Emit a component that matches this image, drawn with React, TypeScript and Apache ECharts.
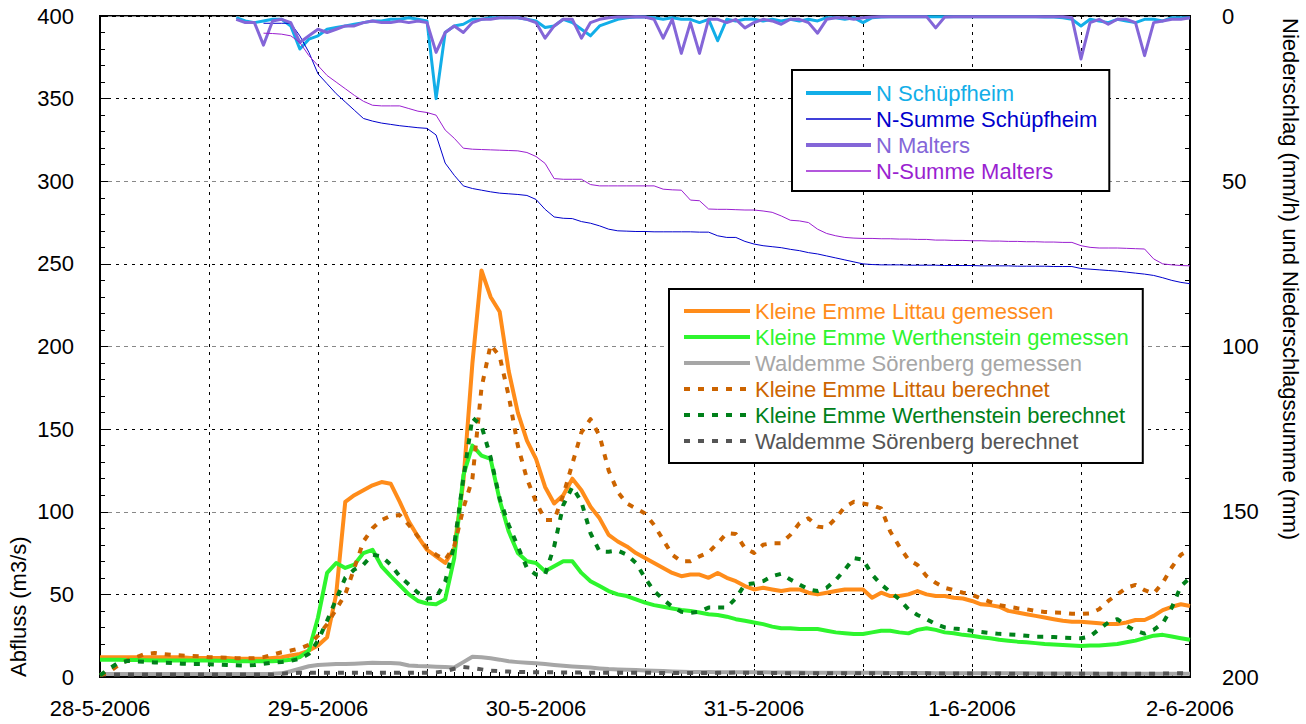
import React, { useEffect, useRef } from 'react';
import * as echarts from 'echarts';

// ---- tick labels ----
const dayLabels = ['28-5-2006', '29-5-2006', '30-5-2006', '31-5-2006', '1-6-2006', '2-6-2006'];
const hoursPerDay = 24;

// ---- discharge (m3/s), hourly from 28-5-2006 00:00 ----
const flowStartHour = 0;
const littauGemessen = [
  12, 12, 12, 12, 12, 12, 12, 12, 12, 12,
  11.5, 11.5, 11.5, 11.5, 11.5, 11, 11, 11, 11, 11.5,
  12, 13, 14, 16, 19, 24, 50, 106, 110, 113,
  116, 118, 117, 106, 94, 85, 77, 73, 69, 78,
  118, 190, 246, 230, 221, 185, 160, 143, 132, 115,
  105, 110, 120, 113, 103, 96, 86, 82, 79, 75,
  72, 69, 66, 63, 61, 62, 62, 60, 63, 60,
  58, 55, 53, 54, 53, 52, 53, 53, 51, 50,
  51, 52, 53, 53, 53, 48, 51, 49, 49, 50,
  52, 50, 49, 49, 48, 47.5, 46, 44, 43.5, 42.5,
  40, 39, 38, 37, 36, 35, 34, 33.5, 33.5, 33,
  32.5, 32, 32, 33, 34.5, 34.5, 37, 40.5, 42.5, 44,
  43,
];
const werthensteinGemessen = [
  10.5, 10.5, 10.5, 10.3, 10.3, 10.2, 10, 10, 10, 10,
  10, 10, 10, 9.8, 9.8, 9.6, 9.5, 9.5, 9.5, 9.6,
  9.8, 10.5, 12, 16, 36, 63, 69, 66, 68, 75,
  77, 67, 61, 55.5, 50, 46, 44.5, 44, 47, 72,
  122, 140, 134, 132, 107, 88, 75, 70, 69, 64,
  67, 70, 70, 63, 58, 55, 52, 50, 49, 47,
  45, 43.5, 42.5, 41.5, 40.5, 40, 39, 38, 37.5, 36.5,
  35, 34, 33, 32, 30.5, 29.5, 29.5, 29, 29, 29,
  28, 27, 26.5, 26, 26, 27, 28, 28, 27, 26.4,
  28.5, 29.5, 28.5, 27, 26.5, 25.5, 25, 24, 23.5, 22.5,
  22, 21.4, 21, 20.5, 20, 19.7, 19.3, 19, 18.8, 19,
  19, 19.5, 20, 21, 22, 23.5, 25, 25.5, 24.5, 23.5,
  22.5,
];
const soerenbergGemessen = [
  1.8, 1.8, 1.8, 1.8, 1.8, 1.8, 1.8, 1.8, 1.8, 1.8,
  1.8, 1.8, 1.8, 1.8, 1.8, 1.8, 1.8, 1.8, 1.8, 1.9,
  2.2, 3.5, 5, 6.5, 7.3, 7.5, 7.8, 7.8, 8, 8.3,
  8.6, 8.5, 8.5, 8.2, 7, 6.6, 6.5, 6.2, 6, 5.8,
  9, 12.3, 12, 11.3, 10.5, 9.5, 9, 8.6, 8.3, 7.8,
  7.3, 6.8, 6.4, 6, 5.7, 5.2, 4.8, 4.6, 4.4, 4.2,
  4, 3.8, 3.6, 3.4, 3.2, 3.1, 3, 3, 2.9, 2.9,
  2.8, 2.8, 2.8, 2.8, 2.7, 2.7, 2.7, 2.7, 2.6, 2.6,
  2.6, 2.6, 2.5, 2.5, 2.5, 2.5, 2.5, 2.4, 2.4, 2.4,
  2.4, 2.4, 2.3, 2.3, 2.3, 2.3, 2.3, 2.2, 2.2, 2.2,
  2.2, 2.2, 2.2, 2.1, 2.1, 2.1, 2.1, 2.1, 2.1, 2.1,
  2, 2, 2, 2, 2, 2, 2, 2, 2, 2,
  2,
];
const littauBerechnet = [
  1, 3, 7, 10, 12, 14, 14.5, 13.8, 13.3, 13,
  12.8, 12.5, 12, 11.8, 11.6, 11.4, 11.3, 11.3, 12, 13.5,
  15, 16, 17.3, 19.5, 25, 32, 41, 50, 66, 82,
  90, 95, 97.5, 98, 92, 85, 78, 74, 71, 79,
  102, 120, 175, 201, 194, 170, 140, 120, 106, 95,
  95, 110, 129, 148, 156, 146, 125, 112, 105, 102,
  99, 92, 83, 74, 70, 70, 73, 75.5, 81, 87,
  86.5, 78, 75, 80, 81, 81, 86, 93, 96, 91,
  90.5, 96, 103, 106, 105, 104, 102, 88, 79, 71,
  67.8, 61, 57, 54, 52.5, 51, 49.8, 47.5, 45.5, 43.5,
  42.5, 41.6, 41, 40, 39.4, 39, 38.9, 38.3, 38.2, 38.5,
  41, 46, 50, 54, 55.7, 52.5, 50.5, 57, 66.4, 74,
  77,
];
const werthensteinBerechnet = [
  1, 5, 8.5, 9.7, 9.5, 9.2, 8.8, 8.7, 8.5, 8,
  7.9, 7.9, 7.7, 7.5, 7.3, 7.1, 6.9, 7.2, 8, 8.7,
  9, 9.8, 11, 14, 22, 34, 47, 60, 65, 68,
  74, 73, 68, 61, 56, 51, 47.5, 48, 57.7, 80,
  120, 157, 152, 133, 108, 92, 79, 66, 62, 62,
  79, 104, 115, 106, 87, 76, 75.8, 76.5, 74, 69,
  60, 52, 47, 42.5, 39.5, 38.8, 39.5, 42, 42, 42,
  47.6, 56, 56.7, 58, 61, 62.5, 59, 56, 53, 52,
  54, 58.7, 65, 72, 71, 62, 56, 51.5, 47, 41,
  37.5, 35, 32, 30, 29.3, 28.8, 28, 27.2, 26.6, 26.1,
  25.8, 25.5, 25, 24.4, 24.4, 24.2, 23.8, 23.6, 23.4, 24.5,
  29, 33, 35, 31, 28, 26.3, 28.5, 32.5, 42, 55,
  60,
];
const soerenbergBerechnet = [
  1.5, 1.5, 1.5, 1.5, 1.5, 1.5, 1.5, 1.5, 1.5, 1.5,
  1.5, 1.5, 1.5, 1.5, 1.5, 1.5, 1.5, 1.5, 1.5, 1.5,
  2, 2.3, 2.5, 2.5, 2.5, 2.5, 2.5, 2.5, 2.5, 2.5,
  2.5, 2.5, 2.5, 2.5, 2.5, 2.5, 2.6, 2.8, 3.5, 5,
  6, 5.5, 4.6, 3.8, 3.5, 3.3, 3.1, 3, 2.9, 2.8,
  2.8, 2.7, 2.7, 2.7, 2.6, 2.6, 2.6, 2.6, 2.5, 2.5,
  2.5, 2.5, 2.4, 2.4, 2.4, 2.4, 2.4, 2.4, 2.5, 2.6,
  2.7, 2.6, 2.5, 2.4, 2.4, 2.3, 2.3, 2.3, 2.3, 2.3,
  2.2, 2.2, 2.2, 2.2, 2.2, 2.2, 2.2, 2.2, 2.2, 2.2,
  2.2, 2.2, 2.1, 2.1, 2.1, 2.1, 2.1, 2.1, 2.1, 2.1,
  2, 2, 2, 2, 2, 2, 2, 2, 2, 2,
  2, 2, 2, 2, 2, 2, 2, 2.1, 2.2, 2.2,
  2.2,
];

// ---- precipitation (mm/h), hourly from hour 15 ----
const precipStartHour = 15;
const nSchuepfheim = [
  0.5, 1.5, 2, 1.5, 1,
  1, 3, 10, 7, 6, 4, 3.5, 3, 2.5, 2,
  1.5, 1.5, 1, 1, 0.5, 1, 1.5, 25, 5, 3,
  2.5, 1, 1, 0.5, 0.5, 0.5, 0.5, 1, 1.5, 3.5,
  3, 1, 2, 4, 6, 3, 2, 1, 0.5, 0.3,
  0.3, 0.5, 1, 0.5, 1, 1, 2, 1, 7.5, 1,
  1.5, 1, 1, 1.5, 1, 1.5, 1, 1.5, 1, 1.5,
  0.5, 0.5, 1, 0.5, 2, 0.5, 0.3, 0.2, 0.2, 0.2,
  0.2, 0.2, 0.2, 0.2, 0.2, 0.2, 0.2, 0.2, 0.2, 0.2,
  0.2, 0.2, 0.2, 0.2, 0.3, 0.3, 0.5, 1, 3, 1,
  1.5, 2, 1, 1.5, 2, 1, 1, 1.5, 0.5, 0.5,
  0.5,
];
const nMalters = [
  1, 2, 2, 8.8, 1.5,
  1, 2, 8, 6, 4, 5, 4, 3, 3, 2,
  1.5, 2, 2, 1.5, 2, 1.5, 2, 11, 5, 3,
  5, 2, 1, 1, 0.5, 0.5, 0.5, 1, 2, 6.7,
  3, 1, 1, 6.7, 2, 1, 0.5, 0.3, 0.3, 0.2,
  0.3, 1, 6.7, 1, 11.3, 2, 11.3, 1, 1, 2,
  1, 3.6, 2, 1, 1.5, 2.5, 1, 1, 2, 5.2,
  1, 0.5, 0.5, 1, 0.5, 0.3, 0.2, 0.2, 0.2, 0.2,
  0.2, 0.2, 3.6, 0.3, 0.2, 0.2, 0.2, 0.2, 0.2, 0.2,
  0.2, 0.2, 0.2, 0.2, 0.2, 0.2, 0.2, 0.5, 13, 2,
  1, 2.5, 1, 1, 2, 12, 2, 1.5, 1, 1,
  0.5,
];

// ---- precipitation sums (mm), hourly from hour 18 ----
const sumStartHour = 18;
const nSummeSchuepfheim = [
  2.2, 2.2,
  2.2, 2.2, 6, 11, 17.5, 20.5, 23.5, 26, 28.5, 31,
  31.8, 32.4, 32.8, 33.2, 33.5, 33.8, 34, 36, 44.5, 48.2,
  51.4, 52.2, 52.7, 53.2, 53.6, 53.8, 54, 54.3, 55.5, 58.5,
  60.8, 61.2, 61.3, 62.2, 62.7, 63.5, 64.5, 65, 65.1, 65.2,
  65.2, 65.3, 65.3, 65.3, 65.3, 65.3, 65.4, 65.4, 66.5, 67,
  67, 68.2, 69, 69.5, 69.8, 70.1, 70.6, 71, 71.6, 72,
  72.6, 73.2, 73.8, 74.4, 75, 75.2, 75.3, 75.3, 75.3, 75.4,
  75.4, 75.4, 75.4, 75.5, 75.5, 75.5, 75.5, 75.6, 75.6, 75.6,
  75.6, 75.7, 75.7, 75.7, 75.7, 75.8, 75.8, 75.8, 76.4, 76.6,
  76.8, 77, 77.2, 77.5, 77.8, 78.1, 78.5, 79.2, 80, 80.6,
  81,
];
const nSummeMalters = [
  5.2, 5.3,
  5.5, 6, 8, 12, 15, 18, 20, 22, 24, 25.8,
  27, 27.2, 27.2, 27.2, 28, 28.8, 29.2, 30, 34.5, 37,
  40, 40.3, 40.4, 40.5, 40.6, 40.7, 40.8, 41.3, 42.5, 44.6,
  49.2, 49.4, 49.4, 49.4, 51, 51.4, 51.4, 51.4, 51.4, 51.4,
  51.4, 51.4, 52.4, 52.6, 52.7, 55.7, 55.9, 58.4, 58.5, 58.5,
  58.6, 58.7, 58.7, 59, 59.4, 60.5, 61.8, 62, 62.5, 64.5,
  65.8, 66.5, 67, 67.2, 67.3, 67.3, 67.4, 67.4, 67.5, 67.5,
  67.6, 67.6, 67.8, 67.8, 67.9, 67.9, 68, 68, 68.1, 68.1,
  68.2, 68.2, 68.3, 68.3, 68.4, 68.4, 68.5, 68.5, 69.5, 70,
  70.2, 70.2, 70.2, 70.3, 70.4, 70.5, 73.5, 75, 75.3, 75.5,
  75.6,
];

const FONT = '"Liberation Sans", Arial, Helvetica, sans-serif';
const FS = 22;

const C = {
  littauG: '#ff8c1a',
  werthG: '#2ef52e',
  soerG: '#a6a6a6',
  littauB: '#cc6400',
  werthB: '#00801a',
  soerB: '#555555',
  nSch: '#12aee8',
  sumSch: '#0000cc',
  nMal: '#8466d8',
  sumMal: '#9a1fd0',
};

const DASH = [6, 8];

function pairs(start: number, values: number[]) {
  return values.map((v, i) => [start + i, v]);
}

function mkSeries(name: string, start: number, values: number[], color: string, width: number, dashed: boolean, yAxisIndex: number) {
  return {
    type: 'line',
    name,
    data: pairs(start, values),
    yAxisIndex,
    symbol: 'none',
    showSymbol: false,
    silent: true,
    lineStyle: { color, width, type: dashed ? DASH : 'solid', cap: 'butt', join: 'round' },
    itemStyle: { color },
    emphasis: { disabled: true },
  };
}

function legendItem(name: string, color: string, width: number, dashed: boolean) {
  return {
    name,
    textStyle: { color },
    itemStyle: { color: 'rgba(0,0,0,0)', borderWidth: 0, opacity: 0 },
    lineStyle: { color, width, type: dashed ? DASH : 'solid', opacity: 1 },
  };
}

export default function App() {
  const ref = useRef<HTMLDivElement>(null);

  useEffect(() => {
    document.body.style.margin = '0';
    if (!ref.current) return;
    const chart = echarts.init(ref.current, undefined, { renderer: 'svg' });

    const tickStyle = { color: '#000', width: 1 };
    const option: any = {
      animation: false,
      backgroundColor: '#ffffff',
      textStyle: { fontFamily: FONT },
      grid: {
        left: 100,
        right: 116,
        top: 16,
        bottom: 47,
        show: true,
        borderColor: '#000',
        borderWidth: 2,
        backgroundColor: 'transparent',
      },
      xAxis: {
        type: 'value',
        min: 0,
        max: 120,
        interval: 12,
        axisLine: { show: true, onZero: false, lineStyle: { color: '#000', width: 2 } },
        axisTick: { show: true, inside: true, length: 8, lineStyle: tickStyle },
        minorTick: { show: true, splitNumber: 12, length: 5, lineStyle: tickStyle },
        splitLine: { show: true, lineStyle: { color: '#000', width: 1, type: [3, 5] } },
        axisLabel: {
          color: '#000',
          fontSize: FS,
          fontFamily: FONT,
          margin: 20,
          formatter: (v: number) => (v % hoursPerDay === 0 ? dayLabels[v / hoursPerDay] : ''),
        },
      },
      yAxis: [
        {
          type: 'value',
          min: 0,
          max: 400,
          interval: 50,
          position: 'left',
          axisLine: { show: true, lineStyle: { color: '#000', width: 2 } },
          axisTick: { show: true, inside: true, length: 8, lineStyle: tickStyle },
          minorTick: { show: true, splitNumber: 5, length: 5, lineStyle: tickStyle },
          splitLine: { show: true, lineStyle: { color: '#000', width: 1, type: [3, 5] } },
          axisLabel: { color: '#000', fontSize: FS, fontFamily: FONT, margin: 26 },
        },
        {
          type: 'value',
          min: 0,
          max: 200,
          interval: 50,
          inverse: true,
          position: 'right',
          axisLine: { show: true, lineStyle: { color: '#000', width: 2 } },
          axisTick: { show: true, inside: true, length: 8, lineStyle: tickStyle },
          minorTick: { show: true, splitNumber: 5, length: 5, lineStyle: tickStyle },
          splitLine: { show: true, lineStyle: { color: '#888', width: 1, type: [4, 4] } },
          axisLabel: { color: '#000', fontSize: FS, fontFamily: FONT, margin: 32, align: 'left' },
        },
      ],
      legend: [
        {
          orient: 'vertical',
          left: 792,
          top: 70,
          itemWidth: 65,
          itemHeight: 14,
          itemGap: 4,
          padding: [12, 12, 9, 12],
          borderColor: '#000',
          borderWidth: 2,
          backgroundColor: '#fff',
          selectedMode: false,
          textStyle: { fontSize: FS, lineHeight: 22, fontFamily: FONT },
          data: [
            legendItem('N Schüpfheim', C.nSch, 4, false),
            legendItem('N-Summe Schüpfheim', C.sumSch, 1.5, false),
            legendItem('N Malters', C.nMal, 4, false),
            legendItem('N-Summe Malters', C.sumMal, 1.5, false),
          ],
        },
        {
          orient: 'vertical',
          left: 669,
          top: 289,
          itemWidth: 66,
          itemHeight: 14,
          itemGap: 4,
          padding: [11, 14, 11, 13],
          borderColor: '#000',
          borderWidth: 2,
          backgroundColor: '#fff',
          selectedMode: false,
          textStyle: { fontSize: FS, lineHeight: 22, fontFamily: FONT },
          data: [
            legendItem('Kleine Emme Littau gemessen', C.littauG, 4, false),
            legendItem('Kleine Emme Werthenstein gemessen', C.werthG, 4, false),
            legendItem('Waldemme Sörenberg gemessen', C.soerG, 4, false),
            legendItem('Kleine Emme Littau berechnet', C.littauB, 4, true),
            legendItem('Kleine Emme Werthenstein berechnet', C.werthB, 4, true),
            legendItem('Waldemme Sörenberg berechnet', C.soerB, 4, true),
          ],
        },
      ],
      graphic: [
        {
          type: 'text',
          x: 18,
          y: 677,
          rotation: Math.PI / 2,
          style: {
            text: 'Abfluss (m3/s)',
            fill: '#000',
            font: `${FS}px ${FONT}`,
            align: 'left',
            verticalAlign: 'middle',
          },
        },
        {
          type: 'text',
          x: 1290,
          y: 18,
          rotation: -Math.PI / 2,
          style: {
            text: 'Niederschlag (mm/h) und Niederschlagssumme (mm)',
            fill: '#000',
            font: `${FS}px ${FONT}`,
            align: 'left',
            verticalAlign: 'middle',
          },
        },
      ],
      series: [
        mkSeries('Waldemme Sörenberg gemessen', flowStartHour, soerenbergGemessen, C.soerG, 4, false, 0),
        mkSeries('Waldemme Sörenberg berechnet', flowStartHour, soerenbergBerechnet, C.soerB, 4, true, 0),
        mkSeries('Kleine Emme Littau gemessen', flowStartHour, littauGemessen, C.littauG, 4, false, 0),
        mkSeries('Kleine Emme Werthenstein gemessen', flowStartHour, werthensteinGemessen, C.werthG, 4, false, 0),
        mkSeries('Kleine Emme Littau berechnet', flowStartHour, littauBerechnet, C.littauB, 4, true, 0),
        mkSeries('Kleine Emme Werthenstein berechnet', flowStartHour, werthensteinBerechnet, C.werthB, 4, true, 0),
        mkSeries('N Schüpfheim', precipStartHour, nSchuepfheim, C.nSch, 3, false, 1),
        mkSeries('N-Summe Schüpfheim', sumStartHour, nSummeSchuepfheim, C.sumSch, 1, false, 1),
        mkSeries('N Malters', precipStartHour, nMalters, C.nMal, 3, false, 1),
        mkSeries('N-Summe Malters', sumStartHour, nSummeMalters, C.sumMal, 1, false, 1),
      ],
    };

    chart.setOption(option);
    return () => {
      chart.dispose();
    };
  }, []);

  return <div ref={ref} style={{ width: 1306, height: 724 }} />;
}
